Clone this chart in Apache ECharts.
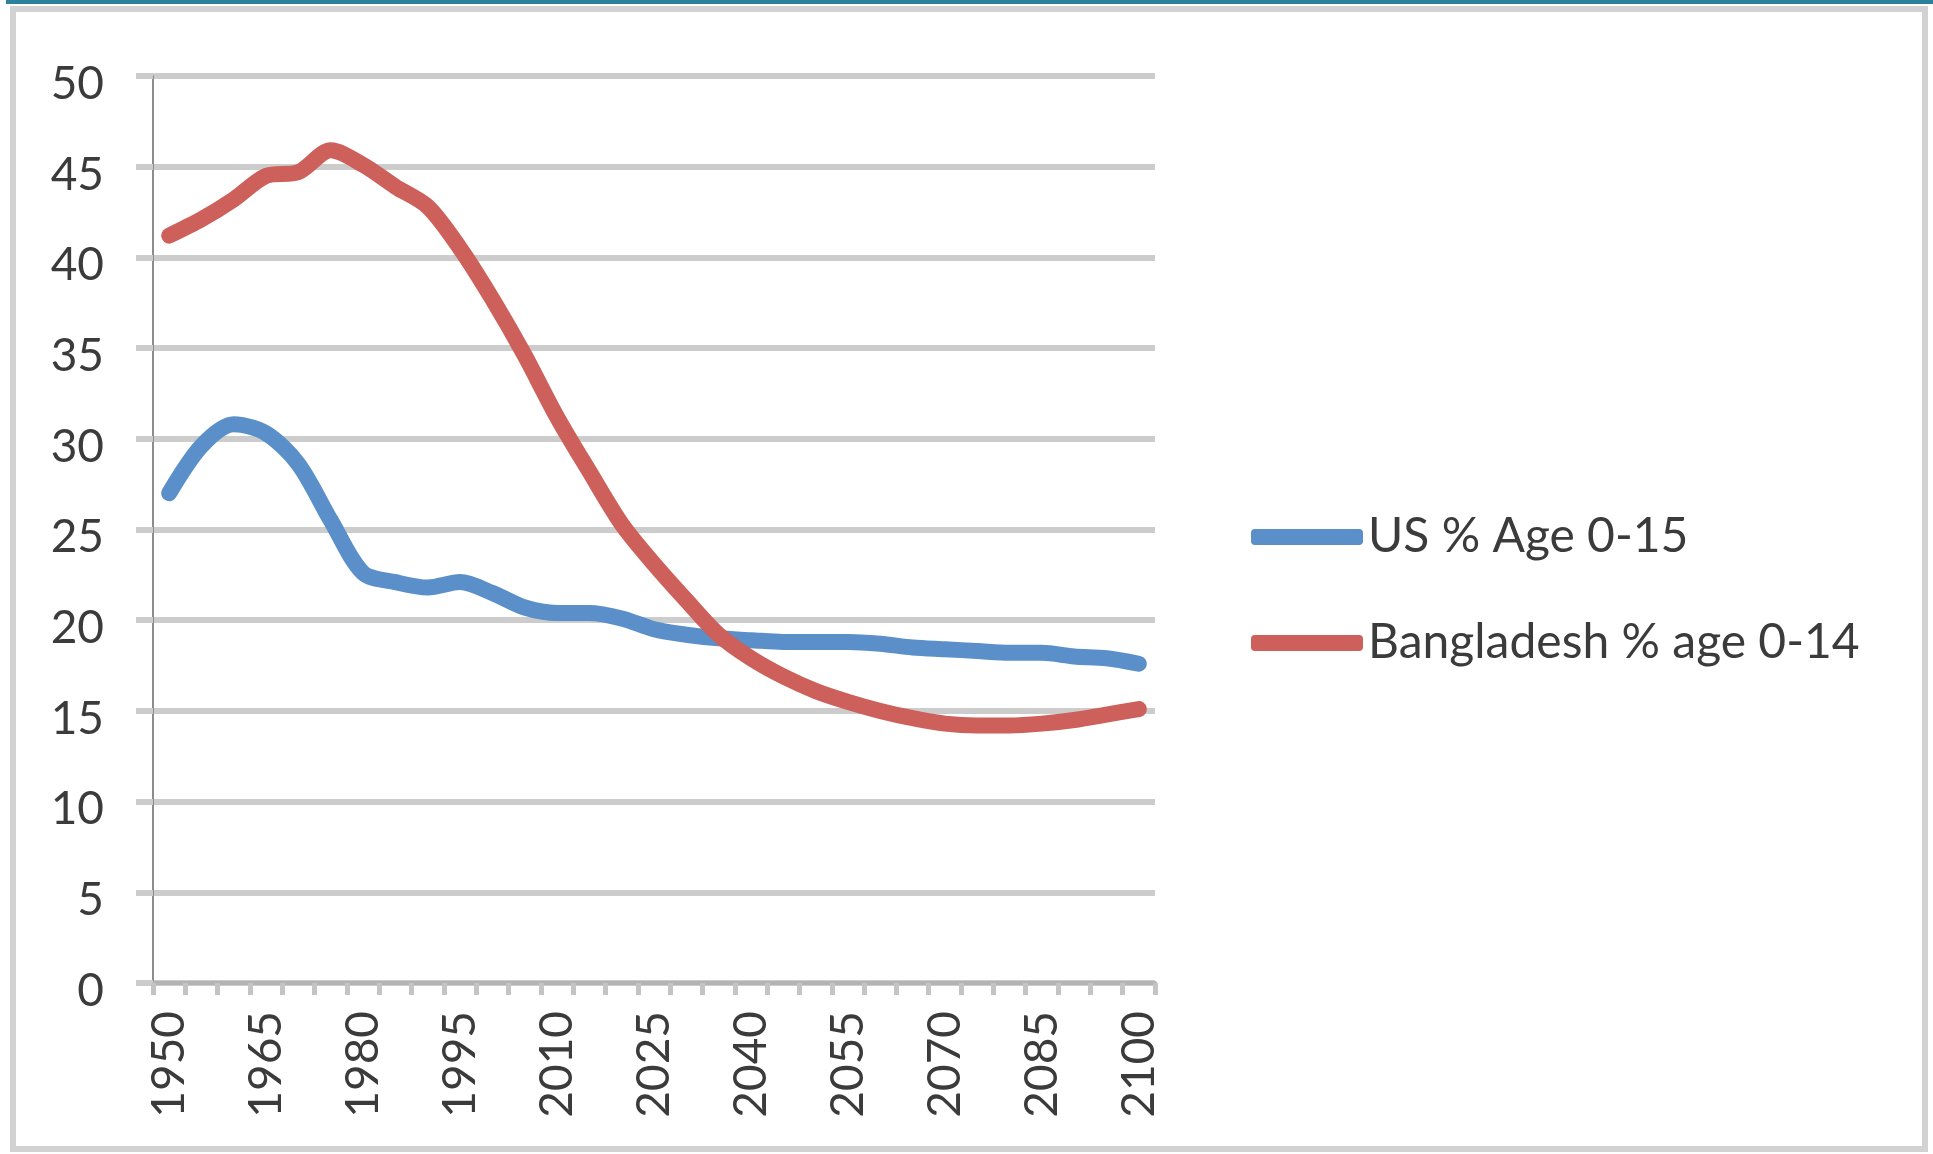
<!DOCTYPE html>
<html>
<head>
<meta charset="utf-8">
<script src="https://cdn.jsdelivr.net/npm/echarts@6/dist/echarts.min.js"></script>
<style>
  html, body { margin: 0; padding: 0; background: #ffffff; }
  #chart { width: 1933px; height: 1154px; }
</style>
</head>
<body>
<div id="chart"></div>
<script>
// Years on the category axis (every 5 years)
const years = ['1950','1955','1960','1965','1970','1975','1980','1985','1990','1995',
  '2000','2005','2010','2015','2020','2025','2030','2035','2040','2045',
  '2050','2055','2060','2065','2070','2075','2080','2085','2090','2095','2100'];

// Share of population that is young (%)
const usShare = [27.0, 29.6, 30.8, 30.3, 28.6, 25.5, 22.6, 22.1, 21.8, 22.1,
  21.5, 20.7, 20.4, 20.4, 20.1, 19.5, 19.2, 19.0, 18.9, 18.8,
  18.8, 18.8, 18.7, 18.5, 18.4, 18.3, 18.2, 18.2, 18.0, 17.9, 17.6];

const bangladeshShare = [41.2, 42.1, 43.2, 44.5, 44.7, 45.9, 45.1, 43.9, 42.8, 40.5,
  37.7, 34.6, 31.2, 28.2, 25.3, 23.1, 21.1, 19.2, 17.9, 16.9,
  16.1, 15.5, 15.0, 14.6, 14.3, 14.2, 14.2, 14.3, 14.5, 14.8, 15.1];

const seriesNames = ['US % Age 0-15', 'Bangladesh % age 0-14'];

const FONT = 'Lato, "Open Sans", sans-serif';
const TEXT = '#3b3b3b';
const BLUE = '#5a8fc9';
const RED = '#cd605a';

const chart = echarts.init(document.getElementById('chart'), null, { renderer: 'canvas' });

chart.setOption({
  animation: false,
  backgroundColor: '#ffffff',
  graphic: [
    { type: 'rect', shape: { x: 6, y: 0, width: 1927, height: 4 }, style: { fill: '#2b8199' }, z: 10 },
    { type: 'rect', shape: { x: 13, y: 9, width: 1912, height: 1140 },
      style: { fill: 'none', stroke: '#d2d2d2', lineWidth: 6 }, z: 9 }
  ],
  grid: { left: 153, right: 778, top: 76, bottom: 171, containLabel: false },
  legend: {
    orient: 'vertical',
    left: 1246,
    top: 506,
    itemWidth: 112,
    itemHeight: 16,
    itemGap: 54,
    itemTextGap: 4,
    icon: 'roundRect',
    textStyle: { fontFamily: FONT, fontSize: 48, color: TEXT, lineHeight: 52 },
    data: seriesNames
  },
  xAxis: {
    type: 'category',
    data: years,
    boundaryGap: true,
    axisLine: { show: true, lineStyle: { color: '#b4b4b4', width: 4 } },
    axisTick: { show: true, interval: 0, length: 12, lineStyle: { color: '#c4c4c4', width: 5 } },
    axisLabel: {
      interval: 2, rotate: 90, margin: 28,
      fontFamily: FONT, fontSize: 46, color: TEXT
    },
    splitLine: { show: false }
  },
  yAxis: {
    type: 'value',
    min: 0, max: 50, interval: 5,
    axisLine: { show: true, lineStyle: { color: '#8c8c8c', width: 2 } },
    axisTick: { show: true, inside: false, length: 17, lineStyle: { color: '#cccccc', width: 6 } },
    axisLabel: {
      margin: 49, fontFamily: FONT, fontSize: 46, color: TEXT,
      verticalAlign: 'top', lineHeight: 16
    },
    splitLine: { show: true, lineStyle: { color: '#cccccc', width: 6 } }
  },
  series: [
    {
      name: seriesNames[0], type: 'line', data: usShare,
      smooth: 0.3, symbol: 'none',
      lineStyle: { width: 16, color: BLUE, cap: 'round', join: 'round' },
      itemStyle: { color: BLUE }
    },
    {
      name: seriesNames[1], type: 'line', data: bangladeshShare,
      smooth: 0.3, symbol: 'none',
      lineStyle: { width: 16, color: RED, cap: 'round', join: 'round' },
      itemStyle: { color: RED }
    }
  ]
});
</script>
</body>
</html>
